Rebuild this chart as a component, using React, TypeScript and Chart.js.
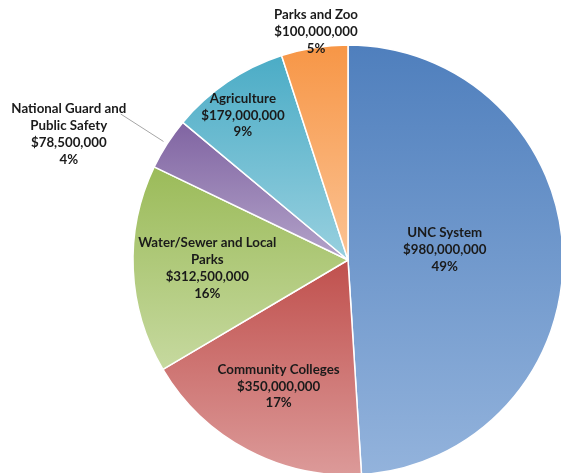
import { useEffect, useRef } from 'react';
import { Chart, registerables } from 'chart.js';

Chart.register(...registerables);

// ---- data ----
const categories = [
  'UNC System',
  'Community Colleges',
  'Water/Sewer and Local Parks',
  'National Guard and Public Safety',
  'Agriculture',
  'Parks and Zoo',
];
const values = [980000000, 350000000, 312500000, 78500000, 179000000, 100000000];
const percentLabels = ['49%', '17%', '16%', '4%', '9%', '5%'];
const nameLines = [
  ['UNC System'],
  ['Community Colleges'],
  ['Water/Sewer and Local', 'Parks'],
  ['National Guard and', 'Public Safety'],
  ['Agriculture'],
  ['Parks and Zoo'],
];

// ---- styles ----
const darkColors = ['#4f7fbd', '#c0504d', '#9bbb59', '#8064a2', '#4bacc6', '#f79646'];
const lightColors = ['#93b3dc', '#dc9a99', '#c6d99f', '#b3a3c9', '#98d0df', '#fbc394'];
// label placement: radial fraction of radius + pixel nudge; outside = leader line label
const labelPlacement = [
  { f: 0.45, dx: 0, dy: -7 },
  { f: 0.67, dx: -2, dy: -1 },
  { f: 0.655, dx: 0, dy: 2 },
  { f: 1.02, outside: true, f2: 1.256, dx: -52, dy: 20 },
  { f: 0.83, dx: -5, dy: 3 },
  { f: 1.07, dx: 4, dy: -1 },
];
const RADIUS = 215;
const FONT = 'bold 13.3px Lato, "Open Sans", sans-serif';
const LINE_H = 16.8;

function fmtMoney(v: number) {
  return '$' + v.toLocaleString('en-US');
}

export default function App() {
  const ref = useRef<HTMLCanvasElement>(null);

  useEffect(() => {
    if (!ref.current) return;
    const total = values.reduce((a, b) => a + b, 0);

    const sliceGradient = (c: any) => {
      const i = c.dataIndex;
      const chart = c.chart;
      const area = chart.chartArea;
      if (c.type !== 'data' || !area) return darkColors[i];
      const cx = (area.left + area.right) / 2;
      const cy = (area.top + area.bottom) / 2;
      let cum = 0;
      for (let k = 0; k < i; k++) cum += values[k];
      const start = -Math.PI / 2 + (cum / total) * Math.PI * 2;
      const end = start + (values[i] / total) * Math.PI * 2;
      const ys = [cy, cy + RADIUS * Math.sin(start), cy + RADIUS * Math.sin(end)];
      for (let k = -4; k <= 8; k++) {
        const a = (k * Math.PI) / 2;
        if (a > start && a < end) ys.push(cy + RADIUS * Math.sin(a));
      }
      const y0 = Math.min(...ys);
      const y1 = Math.max(...ys);
      const g = chart.ctx.createLinearGradient(0, y0, 0, y1);
      g.addColorStop(0, darkColors[i]);
      g.addColorStop(1, lightColors[i]);
      return g;
    };

    const labelPlugin = {
      id: 'sliceLabels',
      afterDatasetsDraw(chart: any) {
        const ctx = chart.ctx;
        const meta = chart.getDatasetMeta(0);
        ctx.save();
        ctx.font = FONT;
        ctx.fillStyle = '#1a1a1a';
        ctx.textAlign = 'center';
        ctx.textBaseline = 'middle';
        meta.data.forEach((arc: any, i: number) => {
          const { x, y, startAngle, endAngle, outerRadius } = arc.getProps(
            ['x', 'y', 'startAngle', 'endAngle', 'outerRadius'],
            true
          );
          const mid = (startAngle + endAngle) / 2;
          const p = labelPlacement[i];
          const lines = [...nameLines[i], fmtMoney(values[i]), percentLabels[i]];
          let lx: number, ly: number;
          if (p.outside) {
            const sx = x + Math.cos(mid) * outerRadius * p.f;
            const sy = y + Math.sin(mid) * outerRadius * p.f;
            const ex = x + Math.cos(mid) * outerRadius * (p.f2 as number);
            const ey = y + Math.sin(mid) * outerRadius * (p.f2 as number);
            ctx.save();
            ctx.strokeStyle = '#a6a6a6';
            ctx.lineWidth = 1;
            ctx.beginPath();
            ctx.moveTo(sx, sy);
            ctx.lineTo(ex, ey);
            ctx.stroke();
            ctx.restore();
            lx = ex + p.dx;
            ly = ey + p.dy;
          } else {
            lx = x + Math.cos(mid) * outerRadius * p.f + p.dx;
            ly = y + Math.sin(mid) * outerRadius * p.f + p.dy;
          }
          const top = ly - ((lines.length - 1) * LINE_H) / 2;
          lines.forEach((t, k) => ctx.fillText(t, lx, top + k * LINE_H));
        });
        ctx.restore();
      },
    };

    const chart = new Chart(ref.current, {
      type: 'pie',
      data: {
        labels: categories,
        datasets: [
          {
            data: values,
            backgroundColor: sliceGradient,
            borderColor: '#ffffff',
            borderWidth: 1.5,
          },
        ],
      },
      options: {
        animation: false,
        responsive: true,
        maintainAspectRatio: false,
        events: [],
        radius: RADIUS,
        layout: { padding: { left: 135, top: 47, right: 0, bottom: 0 } },
        plugins: {
          legend: { display: false },
          tooltip: { enabled: false },
        },
      } as any,
      plugins: [labelPlugin],
    });
    return () => chart.destroy();
  }, []);

  return (
    <div
      style={{
        position: 'fixed',
        left: 0,
        top: 0,
        width: 561,
        height: 473,
        overflow: 'hidden',
        background: '#ffffff',
      }}
    >
      <canvas ref={ref} />
    </div>
  );
}
